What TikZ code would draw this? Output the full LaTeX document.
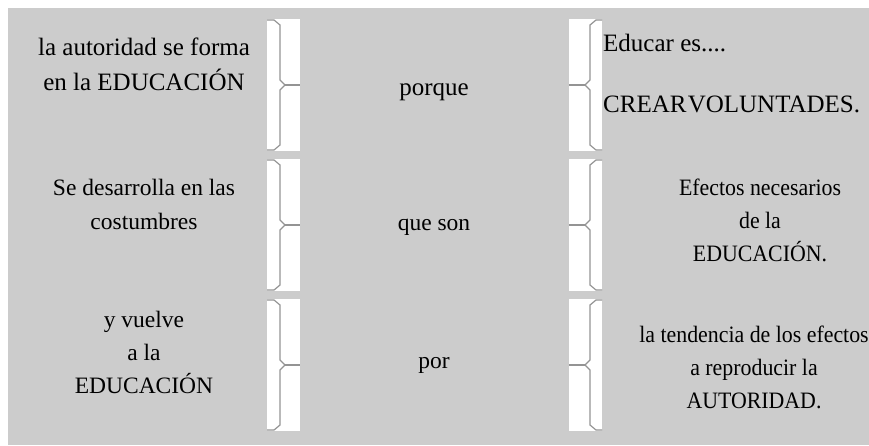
\documentclass[tikz,border=0pt]{standalone}
\usepackage{fontspec}
\setmainfont{Liberation Serif}
\newfontfamily\narrowserif[FakeStretch=0.93]{Liberation Serif}
\begin{document}
\begin{tikzpicture}[x=1pt,y=-1pt,
  panel/.style={fill=black!20,draw=none},
  strip/.style={fill=white,draw=none,minimum width=33pt,minimum height=132pt,inner sep=0pt,outer sep=0pt},
  brace/.style={draw=black!42,line width=1.2pt,line join=miter},
  big/.style={font=\fontsize{25}{35}\selectfont,align=center,inner sep=0pt},
  bigl/.style={font=\fontsize{25}{61}\selectfont,align=left,inner sep=0pt},
  mid/.style={font=\fontsize{23.5}{33}\selectfont,align=center,inner sep=0pt},
  midn/.style={font=\narrowserif\fontsize{23.5}{33}\selectfont,align=center,inner sep=0pt}]
\useasboundingbox (0,0) rectangle (869,445);
\fill[panel] (8,8) rectangle (869,445);
\foreach \t/\n in {19/1,159/2,299/3}{
  \node[strip] (sl\n) at (283.5,\t+66) {};
  \node[strip] (sr\n) at (585.5,\t+66) {};
  \draw[brace] (267,\t+1) -- (274,\t+1) -- (280,\t+6) -- (280,\t+61) -- (285,\t+66) -- (280,\t+71) -- (280,\t+126) -- (274,\t+131) -- (267,\t+131);
  \draw[brace] (285,\t+66) -- (300,\t+66);
  \draw[brace] (602,\t+1) -- (596,\t+1) -- (590,\t+6) -- (590,\t+61) -- (585,\t+66) -- (590,\t+71) -- (590,\t+126) -- (596,\t+131) -- (602,\t+131);
  \draw[brace] (585,\t+66) -- (569,\t+66);
}
% row 1
\node[big] (a1) at (144,64) {la autoridad se forma\\en la EDUCACIÓN};
\node[big] (b1) at (434,92) {porque};
\node[bigl,anchor=west] (c1) at (603,74) {Educar es....\\CREAR\hspace{0.05em}VOLUNTADES.};
% row 2
\node[mid,font=\fontsize{23.5}{34}\selectfont] (a2) at (144,204) {Se desarrolla en las\\costumbres};
\node[mid] (b2) at (434,227) {que son};
\node[midn] (c2) at (760,220) {Efectos necesarios\\de la\\EDUCACIÓN.};
% row 3
\node[mid] (a3) at (144,352) {y vuelve\\a la\\EDUCACIÓN};
\node[mid] (b3) at (434,365) {por};
\node[midn] (c3) at (754,367) {la tendencia de los efectos\\a reproducir la\\AUTORIDAD.};
\end{tikzpicture}
\end{document}
